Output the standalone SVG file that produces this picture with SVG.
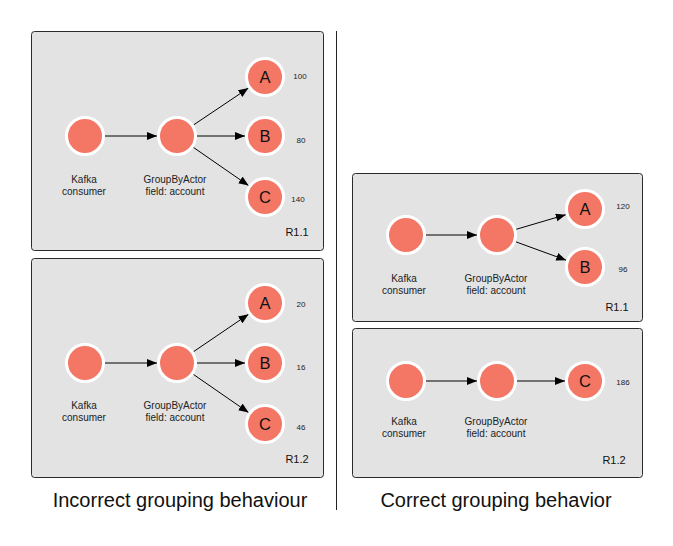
<svg xmlns="http://www.w3.org/2000/svg" width="673" height="546" viewBox="0 0 673 546">
<defs>
<marker id="ah" markerUnits="userSpaceOnUse" markerWidth="11" markerHeight="9" refX="10" refY="4" orient="auto">
<path d="M0,0 L10,4 L0,8 z" fill="#000"/>
</marker>
<style>
.panel{fill:#e3e3e3;stroke:#2b2b2b;stroke-width:1}
.node{fill:#f47766;stroke:#fff;stroke-width:3}
.lbl{font-family:"Liberation Sans",Arial,sans-serif;font-size:10px;fill:#222;text-anchor:middle}
.num{font-family:"Liberation Sans",Arial,sans-serif;font-size:8px;fill:#222;text-anchor:middle}
.ltr{font-family:"Liberation Sans",Arial,sans-serif;font-size:16.5px;fill:#111;text-anchor:middle}
.rid{font-family:"Liberation Sans",Arial,sans-serif;font-size:11px;fill:#111;text-anchor:middle}
.title{font-family:"Liberation Sans",Arial,sans-serif;font-size:20px;fill:#111;text-anchor:middle}
.edge{stroke:#000;stroke-width:1;fill:none;marker-end:url(#ah)}
</style>
</defs>
<rect width="673" height="546" fill="#fff"/>
<line x1="336.5" y1="31" x2="336.5" y2="510" stroke="#222" stroke-width="1"/>

<g id="panel-left-r11">
<rect class="panel" x="31.5" y="31.5" width="292" height="219" rx="3"/>
<text class="rid" x="297" y="236">R1.1</text>
</g>
<g id="panel-left-r12">
<rect class="panel" x="31.5" y="258.5" width="292" height="219" rx="3"/>
<text class="rid" x="297" y="463">R1.2</text>
</g>
<g id="panel-right-r11">
<rect class="panel" x="352.5" y="173.5" width="290" height="148" rx="3"/>
<text class="rid" x="617" y="311">R1.1</text>
</g>
<g id="panel-right-r12">
<rect class="panel" x="352.5" y="328.5" width="290" height="149" rx="3"/>
<text class="rid" x="614" y="464">R1.2</text>
</g>

<g id="connectors">
<line class="edge" x1="105" y1="136" x2="157" y2="136"/>
<line class="edge" x1="193.6" y1="124.9" x2="248.4" y2="88.1"/>
<line class="edge" x1="197" y1="136" x2="245" y2="136"/>
<line class="edge" x1="193.4" y1="147.4" x2="248.6" y2="185.6"/>

<line class="edge" x1="105" y1="363" x2="157" y2="363"/>
<line class="edge" x1="193.5" y1="351.7" x2="248.5" y2="314.3"/>
<line class="edge" x1="197" y1="363" x2="245" y2="363"/>
<line class="edge" x1="193.4" y1="374.4" x2="248.6" y2="412.6"/>

<line class="edge" x1="426" y1="235" x2="477" y2="235"/>
<line class="edge" x1="516.2" y1="229.3" x2="565.8" y2="214.7"/>
<line class="edge" x1="515.8" y1="241.8" x2="566.2" y2="260.2"/>

<line class="edge" x1="426" y1="381" x2="477" y2="381"/>
<line class="edge" x1="517" y1="381" x2="565" y2="381"/>
</g>

<g id="l1-kafka"><circle class="node" cx="85" cy="136" r="18.5"/><text class="lbl" x="84" y="183">Kafka</text><text class="lbl" x="84" y="195">consumer</text></g>
<g id="l1-group"><circle class="node" cx="177" cy="136" r="18.5"/><text class="lbl" x="175" y="183">GroupByActor</text><text class="lbl" x="175" y="195">field: account</text></g>
<g id="l1-a"><circle class="node" cx="265" cy="77" r="18.5"/><text class="ltr" x="265" y="83">A</text><text class="num" x="300" y="79">100</text></g>
<g id="l1-b"><circle class="node" cx="265" cy="136" r="18.5"/><text class="ltr" x="265" y="142">B</text><text class="num" x="301" y="143">80</text></g>
<g id="l1-c"><circle class="node" cx="265" cy="197" r="18.5"/><text class="ltr" x="265" y="203">C</text><text class="num" x="298" y="202">140</text></g>

<g id="l2-kafka"><circle class="node" cx="85" cy="363" r="18.5"/><text class="lbl" x="84" y="409">Kafka</text><text class="lbl" x="84" y="421">consumer</text></g>
<g id="l2-group"><circle class="node" cx="177" cy="363" r="18.5"/><text class="lbl" x="175" y="409">GroupByActor</text><text class="lbl" x="175" y="421">field: account</text></g>
<g id="l2-a"><circle class="node" cx="265" cy="303" r="18.5"/><text class="ltr" x="265" y="309">A</text><text class="num" x="301" y="307">20</text></g>
<g id="l2-b"><circle class="node" cx="265" cy="363" r="18.5"/><text class="ltr" x="265" y="369">B</text><text class="num" x="301" y="370">16</text></g>
<g id="l2-c"><circle class="node" cx="265" cy="424" r="18.5"/><text class="ltr" x="265" y="430">C</text><text class="num" x="301" y="430">46</text></g>

<g id="r1-kafka"><circle class="node" cx="406" cy="235" r="18.5"/><text class="lbl" x="404" y="282">Kafka</text><text class="lbl" x="404" y="294">consumer</text></g>
<g id="r1-group"><circle class="node" cx="497" cy="235" r="18.5"/><text class="lbl" x="496" y="282">GroupByActor</text><text class="lbl" x="496" y="294">field: account</text></g>
<g id="r1-a"><circle class="node" cx="585" cy="209" r="18.5"/><text class="ltr" x="585" y="215">A</text><text class="num" x="623" y="209">120</text></g>
<g id="r1-b"><circle class="node" cx="585" cy="267" r="18.5"/><text class="ltr" x="585" y="273">B</text><text class="num" x="623" y="272">96</text></g>

<g id="r2-kafka"><circle class="node" cx="406" cy="381" r="18.5"/><text class="lbl" x="404" y="425">Kafka</text><text class="lbl" x="404" y="437">consumer</text></g>
<g id="r2-group"><circle class="node" cx="497" cy="381" r="18.5"/><text class="lbl" x="496" y="425">GroupByActor</text><text class="lbl" x="496" y="437">field: account</text></g>
<g id="r2-c"><circle class="node" cx="585" cy="381" r="18.5"/><text class="ltr" x="585" y="387">C</text><text class="num" x="623" y="385">186</text></g>

<text class="title" x="180" y="507">Incorrect grouping behaviour</text>
<text class="title" x="496" y="507">Correct grouping behavior</text>
</svg>
